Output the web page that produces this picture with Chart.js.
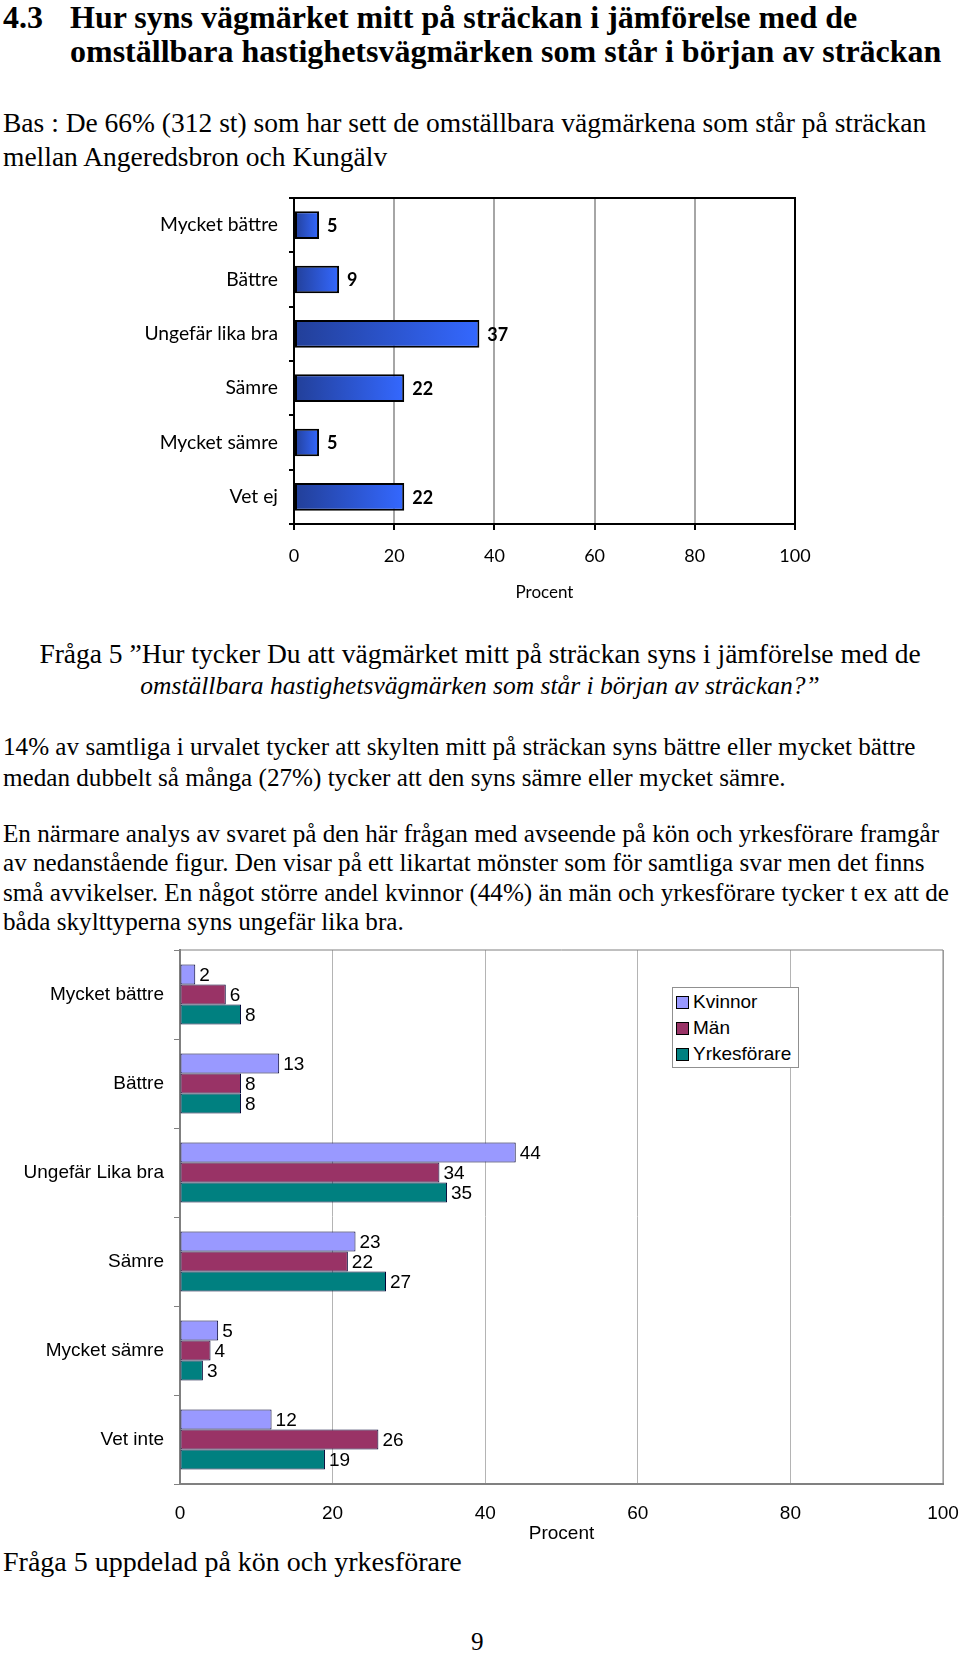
<!DOCTYPE html>
<html>
<head>
<meta charset="utf-8">
<script src="https://cdn.jsdelivr.net/npm/chart.js@4.4.1/dist/chart.umd.min.js"></script>
<style>
  body { margin: 0; background: #fff; width: 960px; height: 1653px; position: relative; overflow: hidden; }
  .t { position: absolute; white-space: nowrap; font-family: "Liberation Serif", serif; color: #000; line-height: 1; }
  .h { font-weight: bold; font-size: 32px; }
  .b { font-size: 25.15px; }
  canvas { position: absolute; left: 0; }
  #legend2 { position: absolute; left: 672px; top: 987px; width: 125px; height: 79px; border: 1px solid #909090; background: #fff;
    font-family: "Liberation Sans", Arial, sans-serif; font-size: 19px; }
  #legend2 div { position: absolute; left: 3px; height: 22px; line-height: 22px; white-space: nowrap; }
  #legend2 span.sw { display: inline-block; width: 11px; height: 11px; border: 1px solid #000; margin-right: 4px; vertical-align: -1px; }
</style>
</head>
<body>
<div class="t h" style="left:3px; top:1px;">4.3</div>
<div class="t h" style="left:70px; top:1px;">Hur syns vägmärket mitt på sträckan i jämförelse med de</div>
<div class="t h" style="left:70px; top:35px;">omställbara hastighetsvägmärken som står i början av sträckan</div>

<div class="t b" style="left:3px; top:109px; font-size:27.5px;">Bas : De 66% (312 st) som har sett de omställbara vägmärkena som står på sträckan</div>
<div class="t b" style="left:3px; top:143px; font-size:27.5px;">mellan Angeredsbron och Kungälv</div>

<canvas id="c1" width="960" height="440" style="top:180px;"></canvas>

<div class="t b" style="left:0; width:960px; text-align:center; top:640px; font-size:27.5px;">Fråga 5 ”Hur tycker Du att vägmärket mitt på sträckan syns i jämförelse med de</div>
<div class="t b" style="left:0; width:960px; text-align:center; top:673px; font-size:25.5px; font-style:italic;">omställbara hastighetsvägmärken som står i början av sträckan?”</div>

<div class="t b" style="left:3px; top:734px;">14% av samtliga i urvalet tycker att skylten mitt på sträckan syns bättre eller mycket bättre</div>
<div class="t b" style="left:3px; top:765px;">medan dubbelt så många (27%) tycker att den syns sämre eller mycket sämre.</div>

<div class="t b" style="left:3px; top:821px;">En närmare analys av svaret på den här frågan med avseende på kön och yrkesförare framgår</div>
<div class="t b" style="left:3px; top:850px;">av nedanstående figur. Den visar på ett likartat mönster som för samtliga svar men det finns</div>
<div class="t b" style="left:3px; top:880px;">små avvikelser. En något större andel kvinnor (44%) än män och yrkesförare tycker t ex att de</div>
<div class="t b" style="left:3px; top:909px;">båda skylttyperna syns ungefär lika bra.</div>

<canvas id="c2" width="960" height="605" style="top:940px;"></canvas>
<div id="legend2"></div>

<div class="t b" style="left:3px; top:1548px; font-size:28px;">Fråga 5 uppdelad på kön och yrkesförare</div>
<div class="t b" style="left:471px; top:1629px;">9</div>

<script>
// chart 1: samtliga
const cats1 = ['Mycket bättre', 'Bättre', 'Ungefär lika bra', 'Sämre', 'Mycket sämre', 'Vet ej'];
const vals1 = [5, 9, 37, 22, 5, 22];

// chart 2: kön och yrkesförare
const cats2 = ['Mycket bättre', 'Bättre', 'Ungefär Lika bra', 'Sämre', 'Mycket sämre', 'Vet inte'];
const kvinnor = [2, 13, 44, 23, 5, 12];
const man = [6, 8, 34, 22, 4, 26];
const yrkesforare = [8, 8, 35, 27, 3, 19];
const seriesNames = ['Kvinnor', 'Män', 'Yrkesförare'];
const seriesColors = ['#9999ff', '#993366', '#008080'];

const xMin = 0, xMax = 100, xStep = 20;
const axisTitle = 'Procent';

// keep the plot area exactly where layout.padding puts it
function fixSize(prop, size) {
    return (s) => {
        s[prop] = size;
        s.paddingTop = s.paddingBottom = s.paddingLeft = s.paddingRight = 0;
    };
}

// frame around plot area + value labels
function frameAndLabels(opts) {
    return {
        id: 'frameAndLabels',
        afterDatasetsDraw(chart) {
            const { ctx, chartArea: a } = chart;
            ctx.save();
            ctx.strokeStyle = opts.frame;
            ctx.lineWidth = opts.frameWidth;
            ctx.beginPath();
            ctx.moveTo(a.left, a.top);
            ctx.lineTo(a.right, a.top);
            ctx.lineTo(a.right, a.bottom);
            ctx.stroke();
            ctx.fillStyle = '#000';
            ctx.font = opts.font;
            ctx.textBaseline = 'middle';
            ctx.textAlign = 'left';
            chart.data.datasets.forEach((ds, i) => {
                chart.getDatasetMeta(i).data.forEach((bar, j) => {
                    ctx.fillText(ds.data[j], bar.x + opts.gap, bar.y + 1);
                });
            });
            ctx.restore();
        }
    };
}

new Chart(document.getElementById('c1'), {
    type: 'bar',
    data: {
        labels: cats1,
        datasets: [{
            data: vals1,
            backgroundColor: (c) => {
                const chart = c.chart;
                if (!chart.chartArea || c.type !== 'data') return '#3366ff';
                const x0 = chart.scales.x.getPixelForValue(0);
                const x1 = chart.scales.x.getPixelForValue(c.raw);
                const g = chart.ctx.createLinearGradient(x0, 0, x1, 0);
                g.addColorStop(0, '#223f98');
                g.addColorStop(1, '#3468ff');
                return g;
            },
            borderColor: '#000',
            borderWidth: 2,
            borderSkipped: false,
            barPercentage: 0.51,
            categoryPercentage: 1
        }]
    },
    options: {
        indexAxis: 'y',
        responsive: false,
        animation: false,
        layout: { padding: { top: 18, right: 165, left: 0, bottom: 0 } },
        plugins: { legend: { display: false }, tooltip: { enabled: false } },
        scales: {
            y: {
                afterFit: fixSize('width', 294),
                border: { color: '#000', width: 2 },
                grid: { drawOnChartArea: false, tickLength: 5, color: '#000', lineWidth: 2 },
                ticks: { color: '#000', padding: 11, font: { family: 'Lato', size: 19.3 } }
            },
            x: {
                min: xMin, max: xMax,
                afterFit: fixSize('height', 96),
                border: { color: '#000', width: 2 },
                grid: { color: '#a6a6a6', lineWidth: 2, tickLength: 6, tickColor: '#000' },
                ticks: { stepSize: xStep, color: '#000', padding: 15, font: { family: 'Lato', size: 18 } },
                title: { display: true, text: axisTitle, color: '#000', font: { family: 'Lato', size: 17 }, padding: 17 }
            }
        }
    },
    plugins: [frameAndLabels({ frame: '#000', frameWidth: 2, font: 'bold 18px Lato', gap: 8 })]
});

const chart2 = new Chart(document.getElementById('c2'), {
    type: 'bar',
    data: {
        labels: cats2,
        datasets: [kvinnor, man, yrkesforare].map((d, i) => ({
            label: seriesNames[i],
            data: d,
            backgroundColor: seriesColors[i],
            borderColor: '#000033',
            borderWidth: 1,
            borderSkipped: false,
            barPercentage: 1,
            categoryPercentage: 0.674
        }))
    },
    options: {
        indexAxis: 'y',
        responsive: false,
        animation: false,
        layout: { padding: { top: 10, right: 17, left: 0, bottom: 0 } },
        plugins: { legend: { display: false }, tooltip: { enabled: false } },
        scales: {
            y: {
                afterFit: fixSize('width', 180),
                border: { color: '#808080', width: 2 },
                grid: { drawOnChartArea: false, tickLength: 6, color: '#808080' },
                ticks: { color: '#000', padding: 10, font: { family: 'Liberation Sans', size: 19 } }
            },
            x: {
                min: xMin, max: xMax,
                afterFit: fixSize('height', 61),
                border: { color: '#808080', width: 2 },
                grid: { color: '#b4b4b4', lineWidth: 1, drawTicks: false },
                ticks: { stepSize: xStep, color: '#000', padding: 18, font: { family: 'Liberation Sans', size: 19 } },
                title: { display: true, text: axisTitle, color: '#000', font: { family: 'Liberation Sans', size: 19 }, padding: 0 }
            }
        }
    },
    plugins: [frameAndLabels({ frame: '#808080', frameWidth: 1, font: '19px "Liberation Sans"', gap: 4 })]
});

// legend built from the chart's datasets
const lg = document.getElementById('legend2');
lg.innerHTML = chart2.data.datasets.map((ds, i) =>
    `<div style="top:${3 + i * 26}px"><span class="sw" style="background:${ds.backgroundColor}"></span>${ds.label}</div>`
).join('');
</script>
</body>
</html>
